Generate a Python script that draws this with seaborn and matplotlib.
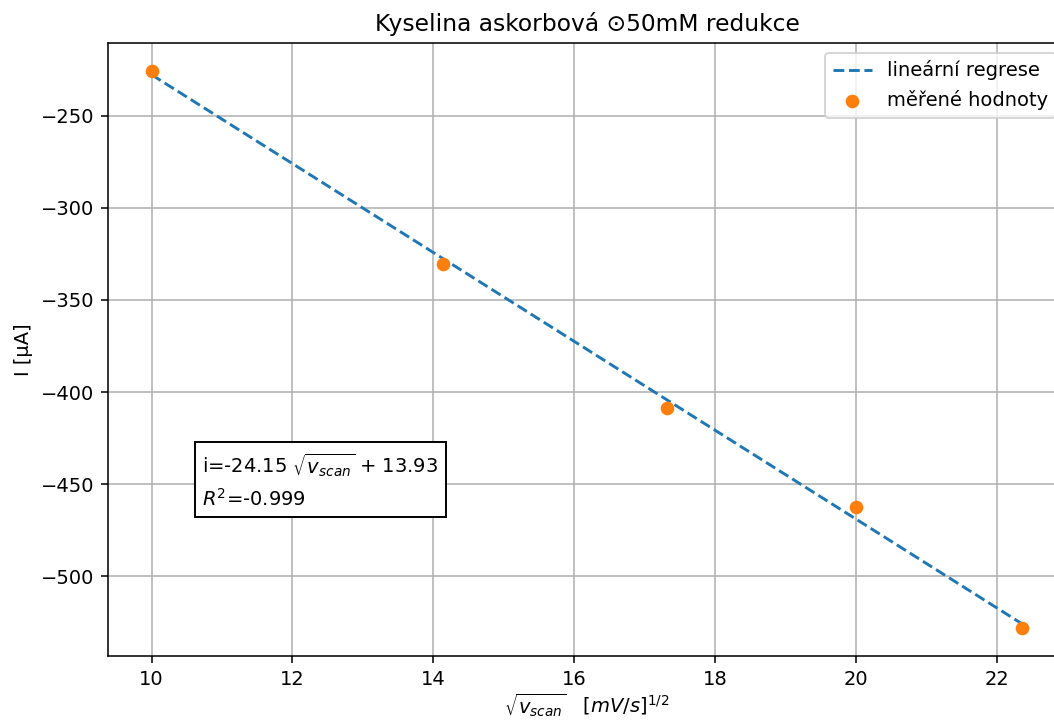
import numpy as np
import pandas as pd
import seaborn as sns
import matplotlib.pyplot as plt

# sqrt of scan rate [mV/s]^(1/2) and measured peak current [uA]
sqrt_v = [10.0, 14.14, 17.32, 20.0, 22.36]
current = [-225.5, -330.4, -408.7, -462.5, -528.3]
# values of the fitted line at the same points
fit_current = [-227.6, -327.6, -404.4, -469.1, -526.1]

slope_txt = "-24.15"
icpt_txt = "13.93"
r2_txt = "-0.999"

df = pd.DataFrame({'x': sqrt_v, 'y': current, 'fit': fit_current})

DPI = 140
fig = plt.figure(figsize=(1054/DPI, 722/DPI), dpi=DPI)
ax = fig.add_axes([108/1054, 66/722, (1066-108)/1054, (656-43)/722])

sns.lineplot(data=df, x='x', y='fit', ax=ax, color='tab:blue', linestyle='--',
             linewidth=1.5, label='lineární regrese')
sns.scatterplot(data=df, x='x', y='y', ax=ax, color='tab:orange', s=36,
                edgecolor='tab:orange', linewidth=1, label='měřené hodnoty', zorder=3)

ax.grid(True, color='#b0b0b0', linewidth=0.8)
ax.set_axisbelow(True)
ax.set_title('Kyselina askorbová ⊙50mM redukce', fontsize=12)
ax.set_xlabel(r'$\sqrt{v_{scan}}$   $[mV/s]^{1/2}$', labelpad=1.5)
ax.set_ylabel('I [µA]')
ax.legend(loc='upper right')

ax.text(10.72, -463.8, 'i=' + slope_txt + r' $\sqrt{v_{scan}}$ + ' + icpt_txt + '\n' + r'$R^2$=' + r2_txt,
        ha='left', va='bottom', linespacing=1.45,
        bbox=dict(facecolor='white', edgecolor='black'))

fig.savefig('out.png', dpi=DPI)
